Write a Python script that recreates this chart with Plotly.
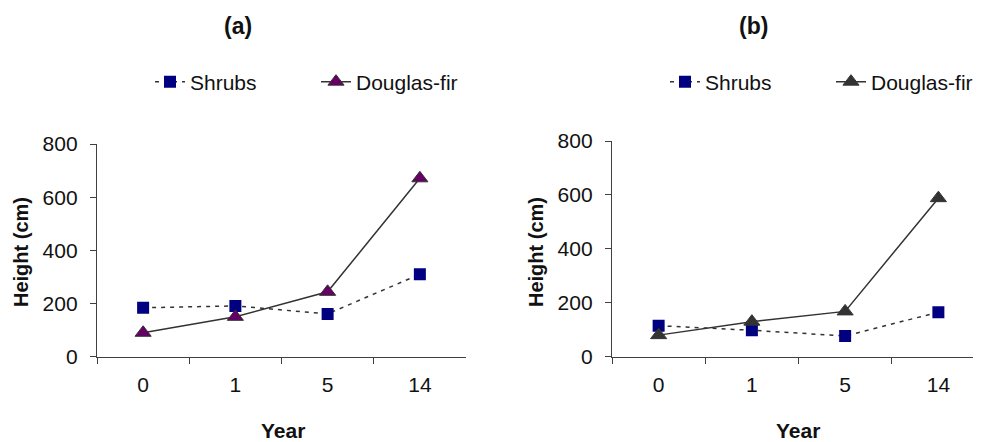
import plotly.graph_objects as go

years = ["0", "1", "5", "14"]
shrubs_a = [184, 191, 161, 310]
fir_a = [90, 150, 244, 671]
shrubs_b = [115, 98, 77, 165]
fir_b = [80, 130, 168, 588]

# The page body has an 8px margin; size the figure so it fills the 981x442 window.
OFF = 8
W, H = 981 - OFF, 442 - OFF
FONT = "Liberation Sans, Arial, sans-serif"
AX = "#404040"


def fx(px):
    return (px - OFF) / W


def fy(py):
    return 1 - (py - OFF) / H


fig = go.Figure()

shr_style = dict(mode="lines+markers", line=dict(color="#333333", width=1.5, dash="4px,5px"),
                 marker=dict(symbol="square", size=12, color="#000080", line=dict(width=0)))
fig.add_trace(go.Scatter(x=years, y=shrubs_a, name="Shrubs", xaxis="x", yaxis="y",
                         legend="legend", **shr_style))
fig.add_trace(go.Scatter(x=years, y=fir_a, name="Douglas-fir", xaxis="x", yaxis="y", legend="legend",
                         mode="lines+markers", line=dict(color="#333333", width=1.5),
                         marker=dict(symbol="triangle-up", size=14, color="#660066",
                                     line=dict(color="#333333", width=1))))
fig.add_trace(go.Scatter(x=years, y=shrubs_b, name="Shrubs", xaxis="x2", yaxis="y2",
                         legend="legend2", **shr_style))
fig.add_trace(go.Scatter(x=years, y=fir_b, name="Douglas-fir", xaxis="x2", yaxis="y2", legend="legend2",
                         mode="lines+markers", line=dict(color="#333333", width=1.5),
                         marker=dict(symbol="triangle-up", size=14, color="#333333",
                                     line=dict(color="#333333", width=1))))


def xax(domain, rng, anchor):
    return dict(domain=domain, range=rng, type="category", tickson="boundaries",
                showline=True, linecolor=AX, linewidth=1.3, ticks="outside", ticklen=6,
                tickcolor=AX, tickwidth=1.3, showgrid=False, zeroline=False,
                tickfont=dict(size=21, color="#111"), ticklabelstandoff=9, anchor=anchor,
                fixedrange=True, automargin=False)


def yax(domain, anchor):
    return dict(domain=domain, range=[0, 800], dtick=200, showline=True, linecolor=AX,
                linewidth=1.3, ticks="outside", ticklen=6, tickcolor=AX, tickwidth=1.3,
                showgrid=False, zeroline=False, tickfont=dict(size=21, color="#111"),
                ticklabelstandoff=8, anchor=anchor, fixedrange=True, automargin=False)


leg_common = dict(orientation="h", xanchor="left", yanchor="middle", font=dict(size=21),
                  bgcolor="rgba(0,0,0,0)", entrywidth=121, entrywidthmode="pixels")

fig.update_layout(
    width=W, height=H, margin=dict(l=0, r=0, t=0, b=0, pad=0, autoexpand=False),
    paper_bgcolor="white", plot_bgcolor="white",
    font=dict(family=FONT, size=21, color="#111"),
    xaxis=xax([fx(97), fx(466)], [-0.5, 3.5], "y"),
    yaxis=yax([fy(356.7), fy(144)], "x"),
    xaxis2=xax([fx(612), 1.0], [-0.5, 3.457], "y2"),
    yaxis2=yax([fy(356.7), fy(141)], "x2"),
    legend=dict(x=fx(150), y=fy(82), **leg_common),
    legend2=dict(x=fx(665), y=fy(82), **leg_common),
    showlegend=True,
)

ann = [
    dict(text="<b>(a)</b>", x=fx(238), y=fy(26), font=dict(size=23)),
    dict(text="<b>(b)</b>", x=fx(753), y=fy(26), font=dict(size=23)),
    dict(text="<b>Year</b>", x=fx(283), y=fy(430), font=dict(size=21)),
    dict(text="<b>Year</b>", x=fx(798), y=fy(430), font=dict(size=21)),
    dict(text="<b>Height (cm)</b>", x=fx(21), y=fy(252), textangle=-90, font=dict(size=20)),
    dict(text="<b>Height (cm)</b>", x=fx(536), y=fy(252), textangle=-90, font=dict(size=20)),
]
for a in ann:
    a.update(xref="paper", yref="paper", showarrow=False, xanchor="center", yanchor="middle")
fig.update_layout(annotations=ann)

fig.write_html("out.html")
